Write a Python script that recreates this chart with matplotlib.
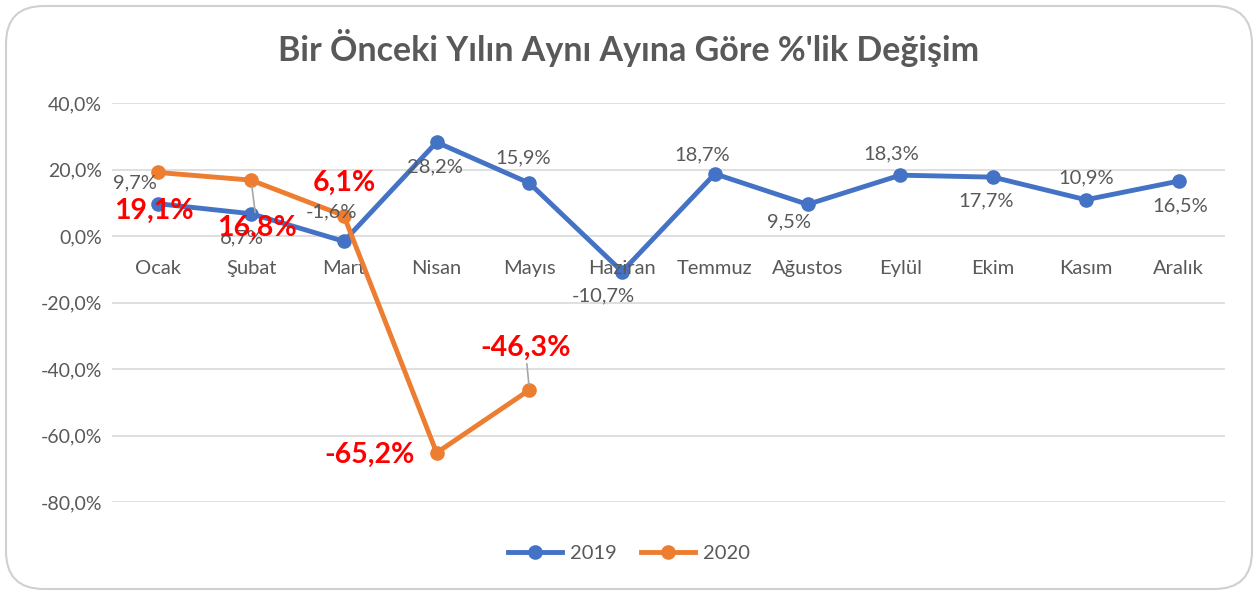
import matplotlib.pyplot as plt
from matplotlib.patches import FancyBboxPatch
from matplotlib.lines import Line2D

plt.rcParams['font.family'] = ['Lato', 'DejaVu Sans']

months = ['Ocak', 'Şubat', 'Mart', 'Nisan', 'Mayıs', 'Haziran', 'Temmuz',
          'Ağustos', 'Eylül', 'Ekim', 'Kasım', 'Aralık']
values_2019 = [9.7, 6.7, -1.6, 28.2, 15.9, -10.7, 18.7, 9.5, 18.3, 17.7, 10.9, 16.5]
values_2020 = [19.1, 16.8, 6.1, -65.2, -46.3]
yticks = [40, 20, 0, -20, -40, -60, -80]

# label offsets in pixels (dx, dy) relative to each point
offsets_2019 = [(-23, 21), (-9, -24), (-12, 29), (-2, -25), (-6, 25), (-19, -24),
                (-13, 19), (-19, -17), (-9, 21), (-7, -24), (0, 22), (2, -25)]
offsets_2020 = [(-4, -38), (6, -48), (0, 33), (-67, -2), (-4, 42)]
leaders_2020 = [False, True, False, False, True]

c2019 = '#4472C4'
c2020 = '#ED7D31'
gray = '#595959'


def fmt(v):
    return f'{v:.1f}%'.replace('.', ',')


fig = plt.figure(figsize=(12.58, 5.95), dpi=100)
fig.patches.append(FancyBboxPatch((6 / 1258, 6 / 595), 1246 / 1258, 583 / 595,
                                  boxstyle='round,pad=0,rounding_size=0.03',
                                  transform=fig.transFigure, fc='white',
                                  ec='#d0d0d0', lw=1.5, zorder=-1,
                                  mutation_aspect=1258 / 595))

ax = fig.add_axes([112 / 1258, 1 - 502 / 595, (1225 - 112) / 1258, (502 - 103) / 595])
ax.set_facecolor('none')
x19 = list(range(len(values_2019)))
x20 = list(range(len(values_2020)))
ax.plot(x19, values_2019, color=c2019, lw=3.5, marker='o', ms=9.5, zorder=3,
        clip_on=False, label='2019')
ax.plot(x20, values_2020, color=c2020, lw=3.5, marker='o', ms=9.5, zorder=4,
        clip_on=False, label='2020')

ax.set_xlim(-0.5, len(months) - 0.5)
ax.set_ylim(-80, 40)
ax.set_yticks(yticks)
ax.set_yticklabels([fmt(v) for v in yticks], color=gray, fontsize=14)
ax.tick_params(axis='y', length=0, pad=7)
ax.set_xticks([])
ax.grid(axis='y', color='#d9d9d9', lw=1.2)
ax.set_axisbelow(True)
for s in ax.spines.values():
    s.set_visible(False)

for i, m in enumerate(months):
    ax.annotate(m, (i, 0), xytext=(0, -32), textcoords='offset pixels',
                ha='center', va='center', color=gray, fontsize=14.5)

for i, v in enumerate(values_2019):
    ax.annotate(fmt(v), (i, v), xytext=offsets_2019[i], textcoords='offset pixels',
                ha='center', va='center', color=gray, fontsize=14.5, zorder=5)

for i, v in enumerate(values_2020):
    arrow = dict(arrowstyle='-', color='#a6a6a6', lw=1.2, shrinkA=0, shrinkB=4) if leaders_2020[i] else None
    ax.annotate(fmt(v), (i, v), xytext=offsets_2020[i], textcoords='offset pixels',
                ha='center', va='center', color='#FF0000', fontsize=20.5,
                fontweight='bold', zorder=6, arrowprops=arrow)

fig.text(0.5, 1 - 48 / 595, "Bir Önceki Yılın Aynı Ayına Göre %'lik Değişim",
         ha='center', va='center', fontsize=24.5, fontweight='bold', color=gray)

handles = [Line2D([], [], color=c2019, lw=3.5, marker='o', ms=9.5),
           Line2D([], [], color=c2020, lw=3.5, marker='o', ms=9.5)]
fig.legend(handles, ['2019', '2020'], loc='center', bbox_to_anchor=(0.5, 1 - 553 / 595),
           ncol=2, frameon=False, fontsize=14.5, labelcolor=gray, handlelength=2.7,
           columnspacing=1.2, handletextpad=0.4)

fig.savefig('out.png', dpi=100)
